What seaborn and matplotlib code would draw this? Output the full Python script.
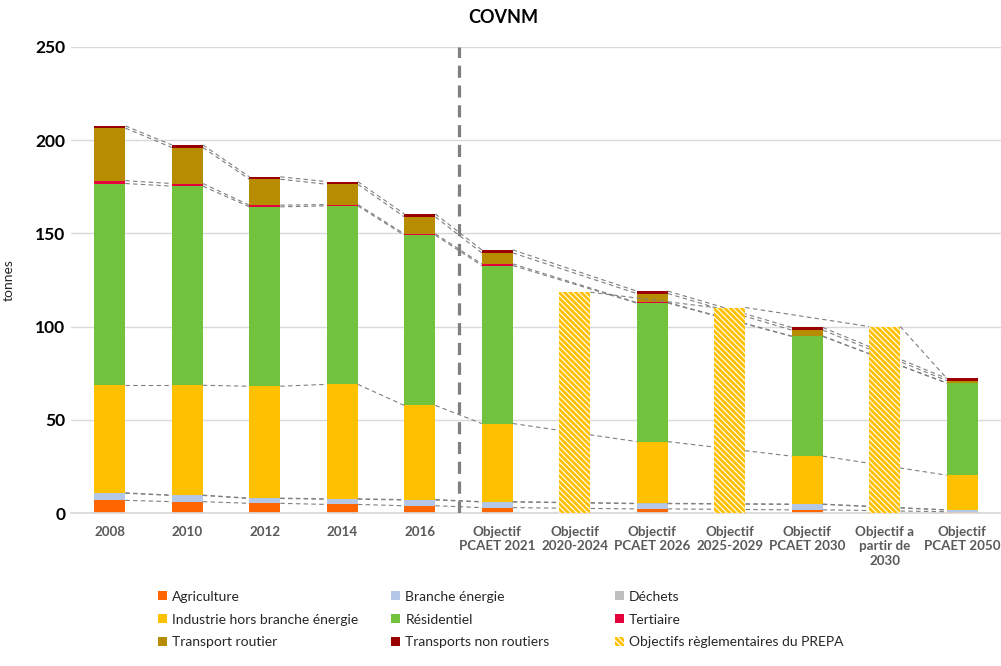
import numpy as np
import pandas as pd
import matplotlib
matplotlib.use("Agg")
import matplotlib.pyplot as plt
import seaborn as sns
from matplotlib.patches import Patch

nan = np.nan

categories = ["2008", "2010", "2012", "2014", "2016",
              "Objectif\nPCAET 2021", "Objectif\n2020-2024", "Objectif\nPCAET 2026",
              "Objectif\n2025-2029", "Objectif\nPCAET 2030", "Objectif a\npartir de\n2030",
              "Objectif\nPCAET 2050"]

series_names = ["Agriculture", "Branche énergie", "Déchets",
                "Industrie hors branche énergie", "Résidentiel", "Tertiaire",
                "Transport routier", "Transports non routiers"]
series_colors = ["#FF6600", "#B4C7E7", "#BFBFBF", "#FFC000", "#71C23C",
                 "#E4003A", "#B78C00", "#9B0000"]

agriculture      = [6.8, 6.1, 5.2, 4.6, 3.9, 2.9, nan, 2.2, nan, 1.7, nan, 0.7]
branche_energie  = [3.8, 3.3, 2.6, 2.8, 3.1, 3.0, nan, 2.8, nan, 2.9, nan, 0.9]
dechets          = [0.2, 0.2, 0.2, 0.2, 0.2, 0.2, nan, 0.2, nan, 0.2, nan, 0.1]
industrie        = [57.7, 58.9, 60.0, 61.4, 50.5, 41.9, nan, 33.1, nan, 25.7, nan, 18.6]
residentiel      = [108.2, 106.8, 96.2, 95.7, 91.3, 84.7, nan, 74.3, nan, 64.2, nan, 49.3]
tertiaire        = [1.5, 1.4, 0.9, 0.7, 0.7, 0.9, nan, 0.3, nan, 0.2, nan, 0.2]
transport_routier = [28.2, 19.3, 13.9, 10.9, 9.1, 5.9, nan, 4.8, nan, 3.2, nan, 1.2]
transports_non_routiers = [1.2, 1.4, 1.3, 1.4, 1.6, 1.6, nan, 1.3, nan, 1.4, nan, 1.2]
prepa = [nan, nan, nan, nan, nan, nan, 118.4, nan, 110.2, nan, 100.0, nan]
prepa_name = "Objectifs règlementaires du PREPA"

y_ticks = [0, 50, 100, 150, 200, 250]

series = [agriculture, branche_energie, dechets, industrie, residentiel,
          tertiaire, transport_routier, transports_non_routiers]

FONT = "Lato"
sns.set_theme(style="white")
plt.rcParams["font.family"] = [FONT, "DejaVu Sans"]
plt.rcParams["hatch.linewidth"] = 2.0

HATCH = "\\" * 6

fig = plt.figure(figsize=(10.01, 6.66), dpi=100)
ax = fig.add_axes([0.071, 0.2297, 0.929, 0.700])

vals = np.array(series, dtype=float)
cum = np.nancumsum(vals, axis=0)
cum[np.isnan(vals)] = np.nan

W = 0.4
# stacked bars: draw cumulative heights from the top series down
for k in range(len(series) - 1, -1, -1):
    df = pd.DataFrame({"cat": categories, "val": cum[k]})
    sns.barplot(data=df, x="cat", y="val", order=categories, color=series_colors[k],
                saturation=1, width=W, errorbar=None, linewidth=0, ax=ax, zorder=2)

# series lines between consecutive (non-PREPA) bars
idx = [i for i, v in enumerate(prepa) if np.isnan(v)]
line_kw = dict(color="#7F7F7F", lw=0.8, ls=(0, (4, 3)), zorder=3)
for k in range(len(series)):
    for a, b in zip(idx[:-1], idx[1:]):
        ax.plot([a + W / 2, b - W / 2], [cum[k][a], cum[k][b]], **line_kw)

# PREPA hatched bars
dfp = pd.DataFrame({"cat": categories, "val": prepa})
sns.barplot(data=dfp, x="cat", y="val", order=categories, color="white",
            saturation=1, width=W, errorbar=None, ax=ax, zorder=4,
            hatch=HATCH, edgecolor="#FFC000", linewidth=0)

pidx = [i for i, v in enumerate(prepa) if not np.isnan(v)]
for a, b in zip(pidx[:-1], pidx[1:]):
    ax.plot([a + W / 2, b - W / 2], [prepa[a], prepa[b]], **line_kw)
last = pidx[-1]
nxt = last + 1
ax.plot([last + W / 2, nxt - W / 2], [prepa[last], cum[-1][nxt]], **line_kw)

# separator between history and objectives
ax.axvline(4.5, color="#7F7F7F", lw=2.3, ls=(0, (3.8, 2.4)), zorder=5)

ax.set_xlim(-0.5, len(categories) - 0.5)
ax.set_ylim(0, 250)
ax.set_yticks(y_ticks)
ax.set_yticklabels([str(t) for t in y_ticks], fontsize=12.5, fontweight="bold", color="black")
ax.grid(axis="y", color="#D9D9D9", lw=1)
ax.set_axisbelow(True)
for s in ["top", "right", "left"]:
    ax.spines[s].set_visible(False)
ax.spines["bottom"].set_color("#D9D9D9")
ax.tick_params(axis="both", length=0)
ax.tick_params(axis="y", pad=4)
ax.tick_params(axis="x", pad=9)
ax.set_xlabel("")
ax.set_ylabel("tonnes", fontsize=10, color="#262626")
ax.yaxis.set_label_coords(-0.061, 0.5)
for lab in ax.get_xticklabels():
    lab.set_fontsize(9.6)
    lab.set_fontweight("bold")
    lab.set_color("#595959")
    lab.set_linespacing(1.25)

fig.text(0.503, 0.974, "COVNM", ha="center", va="center", fontsize=13,
         fontweight="bold", color="black")

# legend: three columns, row-wise order as in the reference
handles = [Patch(facecolor=c, edgecolor="none", label=n) for c, n in zip(series_colors, series_names)]
handles.append(Patch(facecolor="white", edgecolor="#FFC000", hatch=HATCH, lw=0, label=prepa_name))
cols_x = [0.158, 0.391, 0.614]
for j in range(3):
    hs = [handles[j + 3 * r] for r in range(3)]
    fig.legend(handles=hs, loc="upper left", bbox_to_anchor=(cols_x[j], 0.113),
               frameon=False, ncol=1, fontsize=10, handlelength=0.65, handleheight=0.65,
               handletextpad=0.35, labelspacing=0.78, borderpad=0, borderaxespad=0,
               labelcolor="#262626")

fig.savefig("out.png", dpi=100)
